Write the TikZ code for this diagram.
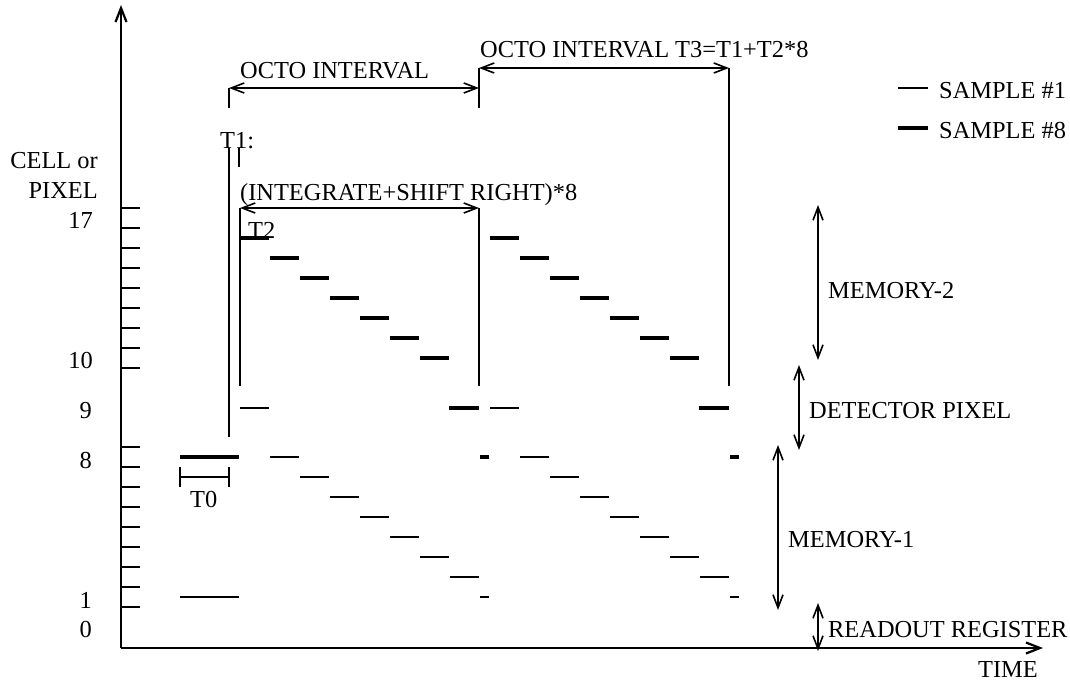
\documentclass[tikz,border=0pt]{standalone}
\usepackage{fontspec}
\setmainfont{Liberation Serif}
\usetikzlibrary{arrows.meta}
\begin{document}
\begin{tikzpicture}[x=1pt,y=-1pt,
  lbl/.style={font=\fontsize{24.4}{28}\selectfont, inner sep=0pt},
  axisline/.style={line width=2.2pt},
  tickline/.style={line width=1.8pt},
  vline/.style={line width=1.6pt},
  thinbar/.style={line width=1.8pt},
  thickbar/.style={line width=4.2pt},
  barb/.style={line width=1.6pt, {Straight Barb[length=13pt,width=10pt]}-{Straight Barb[length=13pt,width=10pt]}},
  endarrow/.style={line width=2.2pt, -{Straight Barb[length=14pt,width=11pt]}}]
\useasboundingbox (0,0) rectangle (1070,683);
% axes
\coordinate (O) at (121,648);
\coordinate (ytop) at (121,5);
\coordinate (xend) at (1043,648);
\draw[endarrow] (O) -- (ytop);
\draw[endarrow] (O) -- (xend);
\foreach \y in {208,228,...,368} \draw[tickline] (121,\y) -- (140,\y);
\foreach \y in {447,467,...,607} \draw[tickline] (121,\y) -- (140,\y);
% axis labels
\node[lbl, anchor=base east] (cellor) at (98,168) {CELL or};
\node[lbl, anchor=base east] (pixel) at (98,198) {PIXEL};
\node[lbl, anchor=base east] (n17) at (93,228) {17};
\node[lbl, anchor=base east] (n10) at (93,368) {10};
\node[lbl, anchor=base east] (n9) at (92,418) {9};
\node[lbl, anchor=base east] (n8) at (92,468) {8};
\node[lbl, anchor=base east] (n1) at (92,608) {1};
\node[lbl, anchor=base east] (n0) at (92,637) {0};
\node[lbl, anchor=base west] (time) at (978,677) {TIME};
% initial samples
\draw[thickbar] (180,457) -- (239,457);
\draw[thinbar] (180,597) -- (239,597);
% T0 bracket
\coordinate (t0a) at (180,477);
\coordinate (t0b) at (229,477);
\draw[vline] (t0a) -- (t0b);
\draw[vline] (180,467) -- (180,487);
\draw[vline] (229,467) -- (229,487);
\node[lbl, anchor=base west] (T0) at (190,507) {T0};
% two periods of bars
\foreach \o in {0,250} {
  \foreach \i in {0,...,6} {
    \draw[thickbar] (240+\o+30*\i,238+20*\i) -- (269+\o+30*\i,238+20*\i);
    \draw[thinbar] (270+\o+30*\i,457+20*\i) -- (299+\o+30*\i,457+20*\i);
  }
  \draw[thickbar] (449+\o,408) -- (479+\o,408);
  \draw[thinbar] (240+\o,408) -- (269+\o,408);
  \draw[thinbar] (480+\o,597) -- (489+\o,597);
  \draw[thickbar] (480+\o,457) -- (489+\o,457);
}
% vertical markers
\coordinate (t1top) at (229,148);
\coordinate (t1bot) at (229,437);
\draw[vline] (t1top) -- (t1bot);
\draw[vline] (239,148) -- (239,167);
\coordinate (ia) at (240,208);
\coordinate (ib) at (479,208);
\draw[vline] (ia) -- (240,386);
\draw[vline] (ib) -- (479,386);
\coordinate (oa) at (229,88);
\coordinate (ob) at (479,88);
\coordinate (pa) at (479,68);
\coordinate (pb) at (729,68);
\draw[vline] (oa) -- (229,108);
\draw[vline] (pa) -- (479,108);
\draw[vline] (pb) -- (729,386);
% horizontal interval arrows
\draw[barb] (oa) -- (ob);
\draw[barb] (pa) -- (pb);
\draw[barb] (ia) -- (ib);
\node[lbl, anchor=base west] (octo1) at (240,78) {OCTO INTERVAL};
\node[lbl, anchor=base west] (octo2) at (480,57) {OCTO INTERVAL T3=T1+T2*8};
\node[lbl, anchor=base west] (integ) at (240,200) {(INTEGRATE+SHIFT RIGHT)*8};
\node[lbl, anchor=base west] (T1) at (220,148) {T1:};
\node[lbl, anchor=base west] (T2) at (248,238) {T2};
% right-hand ranges
\coordinate (m2a) at (818,205);
\coordinate (m2b) at (818,360);
\coordinate (dpa) at (799,365);
\coordinate (dpb) at (799,450);
\coordinate (m1a) at (778,445);
\coordinate (m1b) at (778,610);
\coordinate (rra) at (818,603);
\coordinate (rrb) at (818,651);
\draw[barb] (m2a) -- (m2b);
\draw[barb] (dpa) -- (dpb);
\draw[barb] (m1a) -- (m1b);
\draw[barb] (rra) -- (rrb);
\node[lbl, anchor=base west] (mem2) at (828,298) {MEMORY-2};
\node[lbl, anchor=base west] (det) at (809,418) {DETECTOR PIXEL};
\node[lbl, anchor=base west] (mem1) at (788,547) {MEMORY-1};
\node[lbl, anchor=base west] (ro) at (828,637) {READOUT REGISTER};
% legend
\draw[thinbar] (898,88) -- (928,88);
\draw[thickbar] (898,128) -- (928,128);
\node[lbl, anchor=base west] (s1) at (939,98) {SAMPLE \#1};
\node[lbl, anchor=base west] (s8) at (939,138) {SAMPLE \#8};
\end{tikzpicture}
\end{document}
